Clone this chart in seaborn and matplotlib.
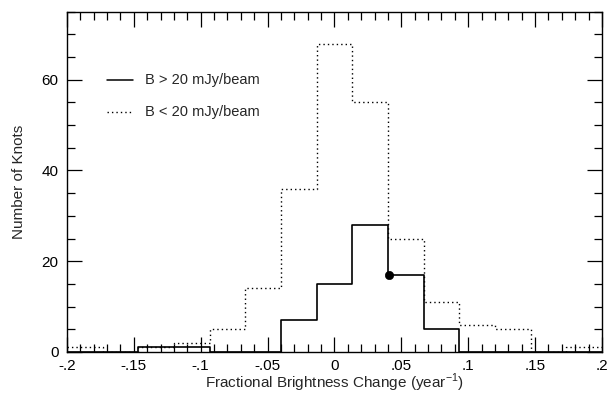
import numpy as np
import pandas as pd
import matplotlib
matplotlib.use("Agg")
import matplotlib.pyplot as plt
from matplotlib.ticker import MultipleLocator
import seaborn as sns

# ---- data ----
bin_edges = [-0.2, -0.17333, -0.14667, -0.12, -0.09333, -0.06667, -0.04, -0.01333,
             0.01333, 0.04, 0.06667, 0.09333, 0.12, 0.14667, 0.17333, 0.2]
bin_centers = [-0.18667, -0.16, -0.13333, -0.10667, -0.08, -0.05333, -0.02667, 0.0,
               0.02667, 0.05333, 0.08, 0.10667, 0.13333, 0.16, 0.18667]
counts_bright = [0, 0, 1, 1, 0, 0, 7, 15, 28, 17, 5, 0, 0, 0, 0]
counts_faint = [1, 0, 1, 2, 5, 14, 36, 68, 55, 25, 11, 6, 5, 0, 1]
point_x = [0.041]
point_y = [17]
label_bright = "B > 20 mJy/beam"
label_faint = "B < 20 mJy/beam"
xtick_values = [-0.2, -0.15, -0.1, -0.05, 0, 0.05, 0.1, 0.15, 0.2]
xtick_labels = ["-.2", "-.15", "-.1", "-.05", "0", ".05", ".1", ".15", ".2"]
ytick_values = [0, 20, 40, 60]
ytick_labels = ["0", "20", "40", "60"]

df_b = pd.DataFrame({"x": bin_centers, "w": counts_bright})
df_f = pd.DataFrame({"x": bin_centers, "w": counts_faint})

sns.set_theme(style="ticks")
plt.rcParams["font.family"] = ["Liberation Sans", "DejaVu Sans"]

fig = plt.figure(figsize=(6.08, 3.94), dpi=100)
ax = fig.add_axes([0.110, 0.107, 0.880, 0.863])

sns.histplot(data=df_f, x="x", weights="w", bins=bin_edges, element="step",
             fill=False, color="black", linestyle=(0, (1, 2.2)), linewidth=1.0, ax=ax)
sns.histplot(data=df_b, x="x", weights="w", bins=bin_edges, element="step",
             fill=False, color="black", linewidth=1.2, ax=ax)
sns.scatterplot(x=point_x, y=point_y, color="black", s=36, edgecolor="black",
                zorder=5, ax=ax)

ax.set_xlim(-0.2, 0.2)
ax.set_ylim(0, 75)
ax.set_xticks(xtick_values)
ax.set_xticklabels(xtick_labels)
ax.set_yticks(ytick_values)
ax.set_yticklabels(ytick_labels)
ax.xaxis.set_minor_locator(MultipleLocator(0.01))
ax.yaxis.set_minor_locator(MultipleLocator(5))
ax.tick_params(which="both", direction="in", top=True, right=True,
               colors="black", labelsize=11, width=0.9)
ax.tick_params(which="major", length=11)
ax.tick_params(axis="x", which="major", pad=5)
ax.tick_params(axis="y", which="major", pad=6)
ax.tick_params(which="minor", length=5.5)
for sp in ax.spines.values():
    sp.set_visible(True)
    sp.set_linewidth(1.0)
    sp.set_color("black")

ax.set_xlabel("Fractional Brightness Change (year$^{\\mathregular{-1}}$)",
              fontsize=11, labelpad=-1)
ax.set_ylabel("Number of Knots", fontsize=11, labelpad=11)

# legend drawn as sample lines in axes coordinates
ax.plot([0.075, 0.123], [0.80, 0.80], transform=ax.transAxes, color="black", lw=1.1)
ax.plot([0.075, 0.123], [0.706, 0.706], transform=ax.transAxes, color="black",
        lw=1.0, linestyle=(0, (1, 2.2)))
ax.text(0.146, 0.80, label_bright, transform=ax.transAxes, va="center", fontsize=10.5)
ax.text(0.146, 0.706, label_faint, transform=ax.transAxes, va="center", fontsize=10.5)

fig.savefig("out.png", dpi=100)
